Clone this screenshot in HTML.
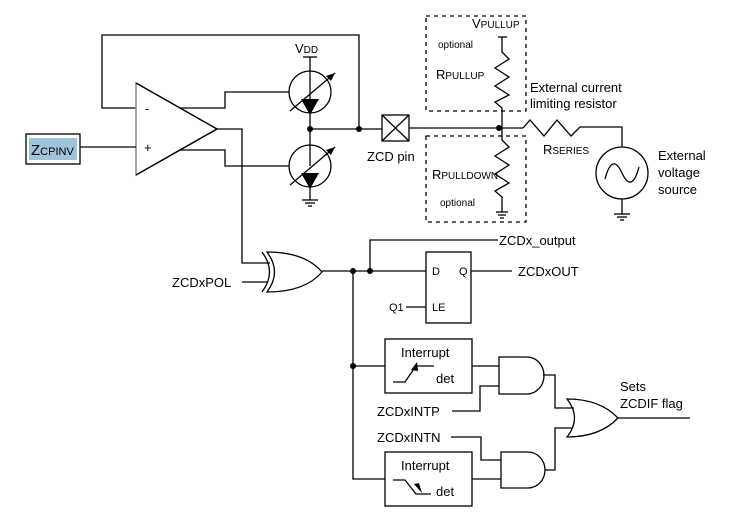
<!DOCTYPE html>
<html><head><style>
html,body{margin:0;padding:0;background:#fff}
svg{display:block}
text{font-family:"Liberation Sans",Arial,sans-serif;fill:#000}
</style></head><body>
<svg width="738" height="517" viewBox="0 0 738 517" xmlns="http://www.w3.org/2000/svg">
<g stroke="#000" stroke-width="1.3" fill="none">
<!-- feedback loop -->
<polyline points="136,108 102,108 102,35 359,35 359,129"/>
<!-- op amp -->
<polygon points="136,83 136,175 217,129" stroke="#888" stroke-width="1.5"/>
<line x1="136" y1="83" x2="217" y2="129"/><line x1="136" y1="175" x2="217" y2="129"/>
<!-- zcpinv -->
<rect x="26" y="134" width="54" height="30"/>
<line x1="80" y1="147" x2="136" y2="147"/>
<!-- opamp to sources -->
<polyline points="180,108 225,108 225,92 289,92"/>
<polyline points="180,150 225,150 225,166 289,166"/>
<!-- upper source -->
<circle cx="310" cy="92" r="21"/>
<line x1="310" y1="57" x2="310" y2="71"/><line x1="303" y1="57" x2="317" y2="57"/>
<line x1="310" y1="71" x2="310" y2="166"/>
<line x1="290" y1="111" x2="335" y2="73"/>
<line x1="290" y1="185" x2="335" y2="147"/>
<line x1="310" y1="187" x2="310" y2="200"/>
<line x1="302" y1="200" x2="318" y2="200"/><line x1="305" y1="203" x2="315" y2="203"/><line x1="308" y1="206" x2="312" y2="206"/>
<circle cx="310" cy="166" r="21"/>
<!-- node line -->
<line x1="310" y1="129" x2="382" y2="129"/>
<!-- zcd pin -->
<rect x="382" y="115" width="27" height="26"/>
<line x1="382" y1="115" x2="409" y2="141"/><line x1="409" y1="115" x2="382" y2="141"/>
<line x1="409" y1="128" x2="523" y2="128"/>
<!-- dashed boxes -->
<rect x="426" y="16" width="100" height="95" stroke-dasharray="4,4"/>
<rect x="426" y="136" width="100" height="86" stroke-dasharray="4,4"/>
<!-- pullup -->
<line x1="498" y1="37" x2="507" y2="37"/>
<polyline points="502,37 502,52 509,59 495,68 509,77 495,86 509,95 495,102 502,108 502,128"/>
<!-- pulldown -->
<polyline points="502,128 502,140 509,147 495,156 509,165 495,174 509,183 495,191 502,197 502,212"/>
<line x1="496" y1="212" x2="508" y2="212"/><line x1="498" y1="215" x2="506" y2="215"/><line x1="500" y1="218" x2="504" y2="218"/>
<!-- rseries -->
<polyline points="523,128 530,120 544,136 557,120 571,136 580,127 622,127 622,147"/>
<circle cx="622" cy="173" r="26"/>
<path d="M605,179 C610,160 616,160 622,173 C628,186 634,186 639,167"/>
<line x1="622" y1="199" x2="622" y2="214"/>
<line x1="614" y1="214" x2="630" y2="214"/><line x1="617" y1="217" x2="627" y2="217"/><line x1="620" y1="220" x2="624" y2="220"/>
<!-- opamp out to xor -->
<polyline points="217,129 242,129 242,263 270,263"/>
<line x1="242" y1="282" x2="268" y2="282"/>
<!-- xor -->
<path d="M262,252 Q277,272 262,292"/>
<path d="M267,252 Q282,272 267,292 Q305,292 322,272 Q305,252 267,252 Z"/>
<line x1="322" y1="271" x2="426" y2="271"/>
<polyline points="370,271 370,240 498,240"/>
<!-- latch -->
<rect x="426" y="252" width="45" height="71"/>
<line x1="471" y1="271" x2="512" y2="271"/>
<line x1="406" y1="307" x2="426" y2="307"/>
<!-- bus -->
<polyline points="353,271 353,479 385,479"/>
<line x1="353" y1="366" x2="385" y2="366"/>
<rect x="385" y="339" width="87" height="54"/>
<rect x="385" y="452" width="87" height="54"/>
<polyline points="393,382 405,382 416,366 434,366"/>
<polyline points="393,480 405,480 416,494 431,494"/>
<!-- and1 -->
<path d="M499,357 L527,357 A17,18.5 0 0 1 527,394 L499,394 Z"/>
<line x1="472" y1="366" x2="499" y2="366"/>
<polyline points="452,411 480,411 480,386 499,386"/>
<!-- and2 -->
<path d="M501,452 L528,452 A17,18 0 0 1 528,488 L501,488 Z"/>
<line x1="472" y1="479" x2="501" y2="479"/>
<polyline points="451,437 481,437 481,460 501,460"/>
<!-- or -->
<polyline points="543,375 555,375 555,408 574,408"/>
<polyline points="545,470 555,470 555,428 572,428"/>
<path d="M567,399 Q582,418 567,437 Q600,437 618,418 Q600,399 567,399 Z"/>
<line x1="618" y1="418" x2="690" y2="418"/>
</g>
<!-- arrows -->
<polygon points="301,99 319,99 310,115" fill="#000"/>
<polygon points="301,173 319,173 310,189" fill="#000"/>
<polygon points="335,73 326,76 331,81" fill="#000"/>
<polygon points="335,147 326,150 331,155" fill="#000"/>
<polygon points="417,362 411,370 418,371" fill="#000"/>
<polygon points="422,493 414,484 419,483" fill="#000"/>
<!-- dots -->
<g fill="#000">
<circle cx="310" cy="129" r="3"/><circle cx="359" cy="129" r="3"/>
<circle cx="499" cy="128" r="3"/>
<circle cx="353" cy="271" r="3"/><circle cx="370" cy="271" r="3"/>
<circle cx="353" cy="366" r="3"/>
</g>
<!-- labels -->
<rect x="29" y="138" width="48" height="22" fill="#9fc3da"/>
<text x="31" y="155" font-size="15">Z<tspan font-size="11">CPINV</tspan></text>
<text x="145" y="113" font-size="13">-</text>
<text x="144" y="152" font-size="13">+</text>
<text x="295" y="53" font-size="13">V<tspan font-size="10">DD</tspan></text>
<text x="367" y="161" font-size="13">ZCD pin</text>
<text x="472" y="28" font-size="13">V<tspan font-size="10">PULLUP</tspan></text>
<text x="438" y="48" font-size="10">optional</text>
<text x="436" y="79" font-size="13">R<tspan font-size="10">PULLUP</tspan></text>
<text x="530" y="92" font-size="13">External current</text>
<text x="530" y="108" font-size="13">limiting resistor</text>
<text x="543" y="154" font-size="13">R<tspan font-size="10">SERIES</tspan></text>
<text x="658" y="160" font-size="13">External</text>
<text x="658" y="177" font-size="13">voltage</text>
<text x="658" y="194" font-size="13">source</text>
<text x="432" y="179" font-size="13">R<tspan font-size="10">PULLDOWN</tspan></text>
<text x="440" y="206" font-size="10">optional</text>
<text x="499" y="245" font-size="13">ZCDx_output</text>
<text x="172" y="287" font-size="13">ZCDxPOL</text>
<text x="432" y="275" font-size="11">D</text>
<text x="459" y="275" font-size="11">Q</text>
<text x="432" y="311" font-size="11">LE</text>
<text x="389" y="311" font-size="11">Q1</text>
<text x="518" y="276" font-size="13">ZCDxOUT</text>
<text x="401" y="357" font-size="13">Interrupt</text>
<text x="436" y="383" font-size="13">det</text>
<text x="401" y="470" font-size="13">Interrupt</text>
<text x="436" y="496" font-size="13">det</text>
<text x="377" y="416" font-size="13">ZCDxINTP</text>
<text x="377" y="442" font-size="13">ZCDxINTN</text>
<text x="620" y="391" font-size="13">Sets</text>
<text x="620" y="408" font-size="13">ZCDIF flag</text>
</svg>
</body></html>
